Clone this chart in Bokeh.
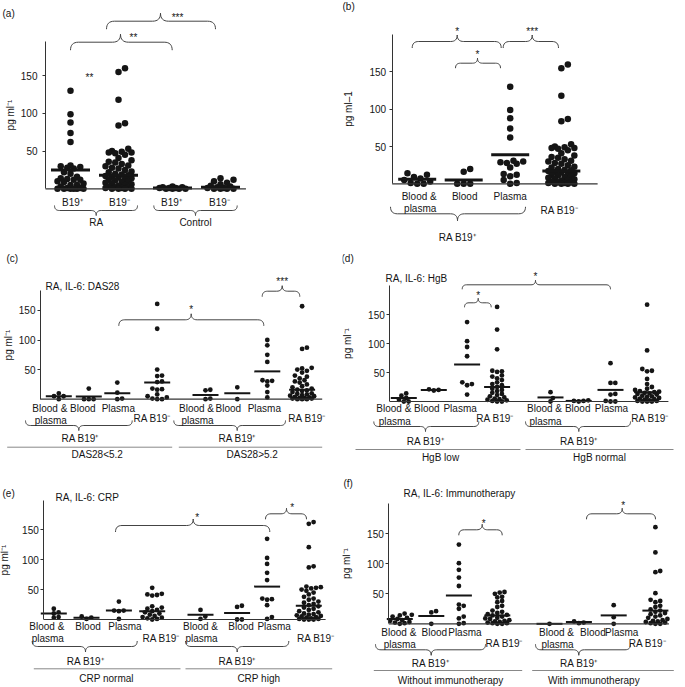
import numpy as np
from bokeh.plotting import figure
from bokeh.layouts import column, row
from bokeh.models import Range1d, FixedTicker, ColumnDataSource
from bokeh.core.properties import value
from bokeh.embed import file_html
from bokeh.resources import INLINE

FONT = "Liberation Sans"
INK = "#151515"

# ------------------------------------------------------------------ data
# (b) RA B19+ subgroups and RA B19- ; (a) reuses them
b_blood_plasma = [14, 12, 9, 7, 5, 3, 1, 0, 0]
b_blood = [20, 16, 0, 0, 0]
b_plasma = [130, 99, 88, 74, 62, 31, 30, 29, 28, 27, 22, 13, 12, 10, 5, 1, 0]
ra_b19neg = [160, 155, 118, 87, 84, 53, 50, 49, 48, 48, 47, 45, 41, 38, 36, 35, 33, 31,
             30, 28, 27, 25, 23, 22, 20, 19, 18, 17, 16, 15, 14, 13, 12, 11, 10, 9, 8,
             7, 6, 5, 4, 3, 2, 2, 1, 1, 0, 0, 0, 0]
ctrl_b19pos = [3, 2, 2, 1, 1, 1, 0, 0, 0, 0]
ctrl_b19neg = [14, 12, 10, 8, 6, 4, 3, 2, 1, 1, 0, 0, 0, 0]
a_lines = [25, 18, 1, 2]
b_lines = [6, 5, 39, 17]
a_cats = ["B19\u207a", "B19\u207b", "B19\u207a", "B19\u207b"]
a_groups = ["RA", "Control"]
b_cats = ["Blood &", "Blood", "Plasma", "RA B19\u207b"]

# (c) DAS28
c_groups = [[10, 5, 5, 0], [18, 0, 0, 0], [28, 11, 1, 0],
            [161, 119, 50, 40, 39, 30, 29, 18, 17, 16, 8, 5, 3, 1, 0, 0],
            [16, 15, 1, 0], [20, 0], [100, 91, 75, 63, 32, 31, 30, 23, 12, 3],
            [157, 87, 85, 53, 52, 50, 48, 45, 40, 38, 35, 32, 30, 28, 25, 22, 20, 18, 16,
             15, 14, 12, 10, 9, 8, 7, 6, 5, 4, 3, 2, 2, 1, 1, 0, 0, 0]]
c_lines = [5, 4.5, 10, 28, 7, 10, 47, 16]
c_strata = ["DAS28<5.2", "DAS28>5.2"]

# (d) HgB
d_groups = [[14, 10, 6, 3, 0, 0], [21, 20, 19], [137, 104, 94, 78, 33, 30, 28, 12],
            [163, 124, 90, 53, 52, 51, 45, 43, 40, 37, 33, 30, 28, 25, 22, 20, 18, 15, 13,
             11, 9, 7, 5, 4, 3, 2, 1, 0, 0],
            [16, 6, 0], [2, 1, 1, 0], [66, 32, 32, 13, 12, 1, 0, 0],
            [167, 88, 56, 53, 52, 39, 30, 25, 22, 20, 18, 17, 16, 15, 14, 13, 12, 10, 9, 8,
             7, 6, 5, 4, 3, 2, 1, 1, 0, 0, 0]]
d_lines = [6, 20, 64, 25, 7, 1, 20, 16]
d_strata = ["HgB low", "HgB normal"]

# (e) CRP
e_groups = [[18, 12, 10, 4, 3], [5, 3, 1], [30, 15, 15, 14, 1],
            [53, 43, 42, 41, 40, 22, 20, 18, 16, 14, 12, 10, 8, 6, 4, 3, 2, 1, 0],
            [16, 5, 1], [23, 21, 0, 0], [135, 103, 93, 78, 66, 35, 34, 33, 24, 4, 1],
            [163, 160, 121, 89, 87, 55, 54, 53, 52, 50, 48, 45, 42, 38, 35, 33, 30, 28, 26,
             24, 22, 20, 18, 16, 14, 12, 10, 9, 8, 7, 6, 5, 4, 3, 2, 1, 1, 0, 0, 0]]
e_lines = [10, 3, 15, 14, 8, 11, 55, 23]
e_strata = ["CRP normal", "CRP high"]

# (f) Immunotherapy
f_groups = [[17, 15, 14, 12, 10, 8, 6, 5, 3, 2, 1, 0], [21, 19, 0],
            [132, 101, 90, 77, 63, 32, 30, 25, 12, 9, 1, 0],
            [53, 52, 50, 45, 44, 38, 36, 30, 28, 22, 20, 18, 16, 15, 14, 12, 10, 9, 8, 6, 5,
             4, 3, 2, 1, 1, 0, 0],
            [0], [4, 2, 1], [31, 11, 0],
            [161, 119, 88, 86, 51, 40, 38, 36, 30, 28, 24, 22, 20, 18, 16, 14, 12, 10, 8, 6,
             5, 4, 3, 2, 1, 0, 0]]
f_lines = [8, 13, 47, 14, 0, 3, 14, 22]
f_strata = ["Without immunotherapy", "With immunotherapy"]

sub_cats = ["Blood &", "Blood", "Plasma", "RA B19\u207b"] * 2
sub_line2 = "plasma"
pos_group = "RA B19\u207a"
tick_vals = [50, 100, 150]


# ------------------------------------------------------------------ helpers
def swarm_offsets(vals, ppu, diam, maxw):
    """Deterministic beeswarm (pixel space) with a capped half-width."""
    order = sorted(range(len(vals)), key=lambda i: vals[i])
    placed, offs = [], [0.0] * len(vals)
    mind = diam * 0.82
    step = diam * 0.5
    cands = [0.0]
    j = 1
    while j * step <= maxw:
        cands += [j * step, -j * step]
        j += 1
    for i in order:
        y = vals[i] * ppu
        best, bestd = 0.0, -1.0
        for c in cands:
            dmin = min([((c - px) ** 2 + (y - py) ** 2) ** 0.5 for px, py in placed] or [1e9])
            if dmin >= mind:
                best = c
                break
            if dmin > bestd:
                bestd, best = dmin, c
        placed.append((best, y))
        offs[i] = best
    return offs


def quad(p0, c, p1, n=9):
    t = np.linspace(0, 1, n)
    return [((1 - s) ** 2 * p0[0] + 2 * (1 - s) * s * c[0] + s * s * p1[0],
             (1 - s) ** 2 * p0[1] + 2 * (1 - s) * s * c[1] + s * s * p1[1]) for s in t]


def brace(x0, x1, xt, yl, h, up):
    s = -1 if up else 1
    r = min(h, (xt - x0) / 2.0, (x1 - xt) / 2.0)
    pts = []
    pts += quad((x0, yl - s * h), (x0, yl), (x0 + r, yl))
    pts += quad((xt - r, yl), (xt, yl), (xt, yl + s * h))
    pts += quad((xt, yl + s * h), (xt, yl), (xt + r, yl))
    pts += quad((x1 - r, yl), (x1, yl), (x1, yl - s * h))
    return pts


def build(cfg, groups, means):
    left, top, w, h = cfg["geo"]
    cx0, sx, y0, ppu = cfg["cx0"], cfg["sx"], cfg["y0"], cfg["ppu"]
    X = lambda px: (px - cx0) / sx
    Y = lambda py: (y0 - py) / ppu
    p = figure(width=w, height=h, x_range=Range1d(X(left), X(left + w)),
               y_range=Range1d(Y(top + h), Y(top)), output_backend="svg",
               toolbar_location=None, min_border=0, outline_line_color=None,
               background_fill_color="white", border_fill_color="white")
    p.xaxis.visible = False
    p.grid.visible = False

    pos = cfg["pos"]
    diam = cfg["diam"]
    xs, ys = [], []
    for k, vals in enumerate(groups):
        offs = swarm_offsets(vals, ppu, diam, cfg["maxw"])
        xs += [pos[k] + o / sx for o in offs]
        ys += list(vals)
    p.scatter(x=xs, y=ys, size=diam, fill_color=INK, line_color=None)

    hw = cfg["hw"] / sx
    p.segment(x0=[q - hw for q in pos], y0=means, x1=[q + hw for q in pos], y1=means,
              line_color=INK, line_width=cfg["lw"])

    # baseline (x axis line)
    p.segment(x0=[X(cfg["axis_x"])], y0=[0], x1=[pos[-1] + cfg["base_pad"]], y1=[0],
              line_color="#333333", line_width=1.2)

    # y axis, pinned at the plot's axis position
    ax = p.yaxis
    ax.fixed_location = X(cfg["axis_x"])
    ax.bounds = (0, cfg["ytop"])
    ax.ticker = FixedTicker(ticks=tick_vals)
    ax.major_tick_out = 3
    ax.major_tick_in = 0
    ax.minor_tick_out = 0
    ax.minor_tick_in = 0
    ax.axis_line_color = "#333333"
    ax.major_tick_line_color = "#333333"
    ax.major_label_text_font = FONT
    ax.major_label_text_font_size = "10px"
    ax.major_label_text_color = INK
    ax.major_label_standoff = cfg["tick_standoff"]
    ax.axis_label = cfg["ylabel"]
    ax.axis_label_text_font = FONT
    ax.axis_label_text_font_size = "10px"
    ax.axis_label_text_font_style = "normal"
    ax.axis_label_text_color = INK
    ax.axis_label_standoff = cfg["ylabel_standoff"]

    # braces / brackets
    bx, by = [], []
    for (x0, x1, xt, yl, hh) in cfg["top_brackets"]:
        pts = brace(x0, x1, xt, yl, hh, True)
        bx.append([X(a) for a, _ in pts]); by.append([Y(b) for _, b in pts])
    for (x0, x1, xt, yl, hh) in cfg["bottom_braces"]:
        pts = brace(x0, x1, xt, yl, hh, False)
        bx.append([X(a) for a, _ in pts]); by.append([Y(b) for _, b in pts])
    p.multi_line(xs=bx, ys=by, line_color="#444444", line_width=1)

    if cfg.get("separators"):
        sp = cfg["separators"]
        p.segment(x0=[X(s[0]) for s in sp], y0=[Y(s[2]) for s in sp],
                  x1=[X(s[1]) for s in sp], y1=[Y(s[2]) for s in sp],
                  line_color="#888888", line_width=1)

    # texts
    T = {"x": [], "y": [], "text": [], "align": [], "size": []}

    def add(txt, px, py, align="center", size="10px"):
        T["x"].append(X(px)); T["y"].append(Y(py)); T["text"].append(txt)
        T["align"].append(align); T["size"].append(size)

    for (txt, px, py, al, sz) in cfg["texts"]:
        add(txt, px, py, al, sz)
    for k, lab in enumerate(cfg["cat_labels"]):
        if not lab:
            continue
        cx = cx0 + sx * pos[k] + cfg["lab_dx"][k]
        if lab.startswith("RA B19"):
            add(lab, cx, cfg["neg_y"])
        else:
            add(lab, cx, cfg["l1_y"])
            if lab == "Blood &":
                add(sub_line2, cx + 1, cfg["l2_y"])
    src = ColumnDataSource(T)
    p.text(x="x", y="y", text="text", source=src, text_align="align",
           text_baseline="middle", text_font=value(FONT), text_font_size="size",
           text_color=INK)
    return p


# ------------------------------------------------------------------ layout (page pixels)
STAR = 2  # visual centring of asterisks

cfg_a = dict(geo=(0, 0, 342, 247), axis_x=45, y0=188.3, ppu=0.754, ytop=196, cx0=70, sx=48,
             pos=[0, 1, 2.125, 3.125], base_pad=0.53, diam=6.5, maxw=15, hw=19.5, lw=3,
             ylabel="pg ml\u207b\u00b9", tick_standoff=5, ylabel_standoff=2,
             top_brackets=[(70, 171.7, 120, 41.7, 8), (106, 215, 160, 20.7, 8)],
             bottom_braces=[(54, 137, 95.7, 210, 5), (153.3, 236.7, 195, 210, 5)],
             separators=None,
             texts=[("(a)", 2, 13, "left", "10px"), ("**", 133, 35 + STAR, "center", "10px"),
                    ("***", 177, 15 + STAR, "center", "10px"), ("**", 89, 75 + STAR, "center", "10px"),
                    (a_groups[0], 95.7, 221.7, "center", "10px"),
                    (a_groups[1], 195, 221.7, "center", "10px")],
             cat_labels=a_cats, lab_dx=[2, 1, -1, -1], l1_y=202, l2_y=214, neg_y=202)

cfg_b = dict(geo=(342, 0, 342, 247), axis_x=391.7, y0=183.3, ppu=0.746, ytop=200, cx0=416.7,
             sx=46.5, pos=[0, 1, 2, 3.1], base_pad=0.78, diam=6.5, maxw=15, hw=19, lw=3,
             ylabel="pg ml\u20131", tick_standoff=3, ylabel_standoff=13,
             top_brackets=[(411.7, 500.7, 456.7, 41, 6.5), (502.7, 558, 531.7, 41, 6.5),
                           (455, 500, 477, 62.7, 5)],
             bottom_braces=[(390, 525, 457, 213.3, 7)],
             separators=None,
             texts=[("(b)", 342, 6, "left", "10px"), ("*", 456.7, 29 + STAR, "center", "10px"),
                    ("***", 531.7, 29 + STAR, "center", "10px"), ("*", 477, 51.7 + STAR, "center", "10px"),
                    (pos_group, 457, 237, "center", "10px")],
             cat_labels=b_cats, lab_dx=[2, 1, 0, -2], l1_y=196, l2_y=207.5, neg_y=210)

cfg_c = dict(geo=(0, 247, 342, 223), axis_x=40, y0=398.7, ppu=0.592, ytop=184, cx0=58.3, sx=30,
             pos=[0, 1, 1.95, 3.28, 4.89, 5.95, 6.95, 8.11], base_pad=0.67, diam=4.8, maxw=12,
             hw=13, lw=2, ylabel="pg ml\u207b\u00b9", tick_standoff=2, ylabel_standoff=2,
             top_brackets=[(118.3, 263.3, 190.7, 319.3, 6), (261.7, 299.3, 281.7, 290.7, 5.5)],
             bottom_braces=[(25, 131.7, 78.3, 425, 5), (173.3, 285, 236.7, 425, 5)],
             separators=[(6.7, 171.7, 446.7), (178.3, 321.7, 446.7)],
             texts=[("(c)", 6, 258, "left", "10px"), ("RA, IL-6: DAS28", 45, 286, "left", "10px"),
                    ("*", 190.7, 306.7 + STAR, "center", "10px"),
                    ("***", 281.7, 279.3 + STAR, "center", "10px"),
                    (pos_group, 79.7, 438.3, "center", "10px"), (pos_group, 236.7, 438.3, "center", "10px"),
                    (c_strata[0], 96.7, 454, "center", "10px"), (c_strata[1], 251.7, 454, "center", "10px")],
             cat_labels=sub_cats, lab_dx=[-9, -6, 1, -5, -9, -9, -3, 5],
             l1_y=407.7, l2_y=420, neg_y=417.7)

cfg_d = dict(geo=(342, 247, 342, 223), axis_x=389.3, y0=401, ppu=0.58, ytop=200, cx0=403.3, sx=30,
             pos=[0, 1, 2.11, 3.11, 4.89, 5.83, 6.89, 8.11], base_pad=0.71, diam=4.8, maxw=12,
             hw=13, lw=2, ylabel="pg ml\u207b\u00b9", tick_standoff=2, ylabel_standoff=12,
             top_brackets=[(461.7, 610, 535, 284.3, 4.5), (464, 490.7, 477.7, 302.3, 4.5)],
             bottom_braces=[(373.3, 478.3, 425, 426, 5), (525, 630, 578.3, 426, 5)],
             separators=[(355, 520, 449), (525, 673, 449)],
             texts=[("(d)", 341, 258, "left", "10px"), ("RA, IL-6: HgB", 385, 278.3, "left", "10px"),
                    ("*", 535, 274.3 + STAR, "center", "10px"), ("*", 477.7, 293.3 + STAR, "center", "10px"),
                    (pos_group, 425, 441, "center", "10px"), (pos_group, 578.3, 441, "center", "10px"),
                    (d_strata[0], 440, 456.7, "center", "10px"), (d_strata[1], 599, 456.7, "center", "10px")],
             cat_labels=sub_cats, lab_dx=[-10, -7, -7, -2, -6, -1, 1, 3],
             l1_y=408.3, l2_y=420.7, neg_y=418.3)

cfg_e = dict(geo=(0, 470, 342, 216), axis_x=43.3, y0=619, ppu=0.598, ytop=199, cx0=53.3, sx=30,
             pos=[0, 1.09, 2.17, 3.28, 4.89, 6.11, 7.11, 8.5], base_pad=0.56, diam=4.8, maxw=12,
             hw=13, lw=2, ylabel="pg ml\u207b\u00b9", tick_standoff=2, ylabel_standoff=9,
             top_brackets=[(115, 269.3, 192.7, 525, 6.5), (265, 306, 286, 513.3, 5.5)],
             bottom_braces=[(31.7, 136.7, 85, 646, 5.5), (185, 288.3, 236.7, 646, 5.5)],
             separators=[(33.3, 180, 668.3), (185, 331.7, 668.3)],
             texts=[("(e)", 2, 493, "left", "10px"), ("RA, IL-6: CRP", 55, 497.3, "left", "10px"),
                    ("*", 196.7, 515 + STAR, "center", "10px"), ("*", 291.7, 505 + STAR, "center", "10px"),
                    (pos_group, 85, 660.7, "center", "10px"), (pos_group, 236.7, 660.7, "center", "10px"),
                    (e_strata[0], 106, 677.7, "center", "10px"), (e_strata[1], 258.3, 677.7, "center", "10px")],
             cat_labels=sub_cats, lab_dx=[-7, 1.5, 6, 9, 0, 4, 7, 7],
             l1_y=626, l2_y=638.3, neg_y=638.3)

cfg_f = dict(geo=(342, 470, 342, 216), axis_x=388.3, y0=623.3, ppu=0.6, ytop=200, cx0=399.3, sx=30,
             pos=[0, 1.05, 1.97, 3.25, 4.99, 5.97, 7.13, 8.52], base_pad=0.45, diam=4.8, maxw=12,
             hw=13, lw=2, ylabel="pg ml\u207b\u00b9", tick_standoff=2, ylabel_standoff=12,
             top_brackets=[(458.3, 501.7, 481.7, 529.3, 5.5), (586, 655, 621.7, 513.3, 5.5)],
             bottom_braces=[(375, 485, 430.7, 649.3, 5.5), (535, 630, 578.3, 649.3, 5.5)],
             separators=[(373.3, 521.7, 670), (531.7, 673.3, 670)],
             texts=[("(f)", 343, 483, "left", "10px"),
                    ("RA, IL-6: Immunotherapy", 403, 492.7, "left", "10px"),
                    ("*", 483.3, 521 + STAR, "center", "10px"), ("*", 622.7, 503.3 + STAR, "center", "10px"),
                    (pos_group, 430, 663.3, "center", "10px"), (pos_group, 578.3, 663.3, "center", "10px"),
                    (f_strata[0], 450, 680, "center", "10px"), (f_strata[1], 593.3, 680, "center", "10px")],
             cat_labels=sub_cats, lab_dx=[-1, 3, 6, 7, 7, 14, 8, -8],
             l1_y=631.7, l2_y=644.3, neg_y=642.7)

a_ra_b19pos = b_blood_plasma + b_blood + b_plasma
pa = build(cfg_a, [a_ra_b19pos, ra_b19neg, ctrl_b19pos, ctrl_b19neg], a_lines)
pb = build(cfg_b, [b_blood_plasma, b_blood, b_plasma, ra_b19neg], b_lines)
pc = build(cfg_c, c_groups, c_lines)
pd = build(cfg_d, d_groups, d_lines)
pe = build(cfg_e, e_groups, e_lines)
pf = build(cfg_f, f_groups, f_lines)

layout = column(row(pa, pb, spacing=0), row(pc, pd, spacing=0), row(pe, pf, spacing=0), spacing=0)
open("out.html", "w").write(file_html(layout, INLINE, title="IL-6"))
